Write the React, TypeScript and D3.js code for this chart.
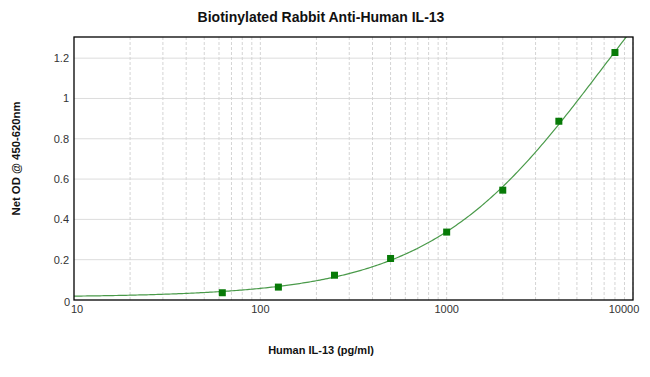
import React from "react";
import * as d3 from "d3";

const titleText = "Biotinylated Rabbit Anti-Human IL-13";
const xLabel = "Human IL-13 (pg/ml)";
const yLabel = "Net OD @ 450-620nm";
const concentrations = [62.5, 125, 250, 500, 1000, 2000, 4000, 8000];
const odValues = [0.036, 0.064, 0.123, 0.206, 0.337, 0.545, 0.887, 1.228];
const yTicks = [0, 0.2, 0.4, 0.6, 0.8, 1, 1.2];
const yTickLabels = ["0", "0.2", "0.4", "0.6", "0.8", "1", "1.2"];
const xTicks = [10, 100, 1000, 10000];
const xTickLabels = ["10", "100", "1000", "10000"];

// 4-parameter logistic fit to the data (Nelder-Mead least squares)
function fourPL(p: number[], x: number) {
  const [a, d, lc, b] = p;
  return d + (a - d) / (1 + Math.pow(x / Math.exp(lc), b));
}
function sse(p: number[]) {
  let s = 0;
  for (let i = 0; i < concentrations.length; i++) {
    const r = fourPL(p, concentrations[i]) - odValues[i];
    s += r * r;
  }
  if (p[3] <= 0) s += 1e6;
  return s;
}
function nelderMead(f: (p: number[]) => number, x0: number[], iters = 4000) {
  const n = x0.length;
  let simplex = [x0.slice()];
  for (let i = 0; i < n; i++) {
    const v = x0.slice();
    v[i] = v[i] !== 0 ? v[i] * 1.2 : 0.01;
    simplex.push(v);
  }
  let vals = simplex.map(f);
  for (let it = 0; it < iters; it++) {
    const idx = d3.range(n + 1).sort((i, j) => vals[i] - vals[j]);
    simplex = idx.map((i) => simplex[i]);
    vals = idx.map((i) => vals[i]);
    const c = new Array(n).fill(0);
    for (let i = 0; i < n; i++) for (let j = 0; j < n; j++) c[j] += simplex[i][j] / n;
    const w = simplex[n];
    const xr = c.map((v, j) => v + (v - w[j]));
    const fr = f(xr);
    if (fr < vals[0]) {
      const xe = c.map((v, j) => v + 2 * (v - w[j]));
      const fe = f(xe);
      if (fe < fr) { simplex[n] = xe; vals[n] = fe; } else { simplex[n] = xr; vals[n] = fr; }
    } else if (fr < vals[n - 1]) {
      simplex[n] = xr; vals[n] = fr;
    } else {
      const xc = c.map((v, j) => v + 0.5 * (w[j] - v));
      const fc = f(xc);
      if (fc < vals[n]) { simplex[n] = xc; vals[n] = fc; }
      else {
        for (let i = 1; i <= n; i++) {
          simplex[i] = simplex[i].map((v, j) => simplex[0][j] + 0.5 * (v - simplex[0][j]));
          vals[i] = f(simplex[i]);
        }
      }
    }
  }
  const best = d3.minIndex(vals);
  return simplex[best];
}

const fitParams = nelderMead(sse, [0.015, 3, Math.log(20000), 0.9]);

const W = 650, H = 377;
const left = 74, right = 633, top = 37, bottom = 300;

export default function App() {
  const x = d3.scaleLog().domain([10, 10000]).range([left, right]);
  const y = d3.scaleLinear().domain([0, 1.305]).range([bottom, top]);

  const minor: number[] = [];
  for (let dec = 10; dec < 10000; dec *= 10) {
    for (let k = 2; k <= 10; k++) minor.push(dec * k);
  }
  const curveX = d3.range(0, 301).map((i) => Math.pow(10, 1 + (3 * i) / 300));
  const line = d3
    .line<number>()
    .x((v) => x(v))
    .y((v) => y(fourPL(fitParams, v)));

  const font = "Arial, 'Liberation Sans', sans-serif";
  return (
    <svg width={W} height={H} style={{ position: "absolute", left: 0, top: 0, background: "#fff" }} fontFamily={font}>
      <defs>
        <clipPath id="plotclip">
          <rect x={left} y={top} width={right - left} height={bottom - top} />
        </clipPath>
      </defs>
      <rect x={0} y={0} width={W} height={H} fill="#fff" />
      {yTicks.slice(1).map((t) => (
        <line key={"hy" + t} x1={left} x2={right} y1={y(t)} y2={y(t)} stroke="#dcdcdc" strokeWidth={1} />
      ))}
      {minor.map((t) => (
        <line key={"vx" + t} x1={x(t)} x2={x(t)} y1={top} y2={bottom} stroke="#d4d4d4" strokeWidth={1} strokeDasharray="3,2" />
      ))}
      <g clipPath="url(#plotclip)">
        <path d={line(curveX) || ""} fill="none" stroke="#4a9a4a" strokeWidth={1.2} />
      </g>
      {concentrations.map((c, i) => (
        <rect key={"m" + i} x={x(c) - 3.5} y={y(odValues[i]) - 3.5} width={7} height={7} fill="#077a07" />
      ))}
      <rect x={left} y={top} width={right - left} height={bottom - top} fill="none" stroke="#000" strokeWidth={1.3} />
      {yTicks.map((t, i) => (
        <text key={"yt" + t} x={i === 0 ? 70 : 69} y={i === 0 ? y(t) + 2 : y(t)} dy="0.35em" textAnchor="end" fontSize={11} fill="#333">
          {yTickLabels[i]}
        </text>
      ))}
      {xTicks.map((t, i) => (
        <text key={"xt" + t} x={i === xTicks.length - 1 ? x(t) - 9 : x(t) + (i === 0 ? 3 : 0)} y={313} textAnchor="middle" fontSize={11} fill="#333">
          {xTickLabels[i]}
        </text>
      ))}
      <text x={321} y={22} textAnchor="middle" fontSize={14} fontWeight="bold" fill="#111">
        {titleText}
      </text>
      <text x={321} y={354} textAnchor="middle" fontSize={11} fontWeight="bold" fill="#111">
        {xLabel}
      </text>
      <text transform={`translate(20,158.5) rotate(-90)`} textAnchor="middle" fontSize={11.3} fontWeight="bold" fill="#111">
        {yLabel}
      </text>
    </svg>
  );
}
